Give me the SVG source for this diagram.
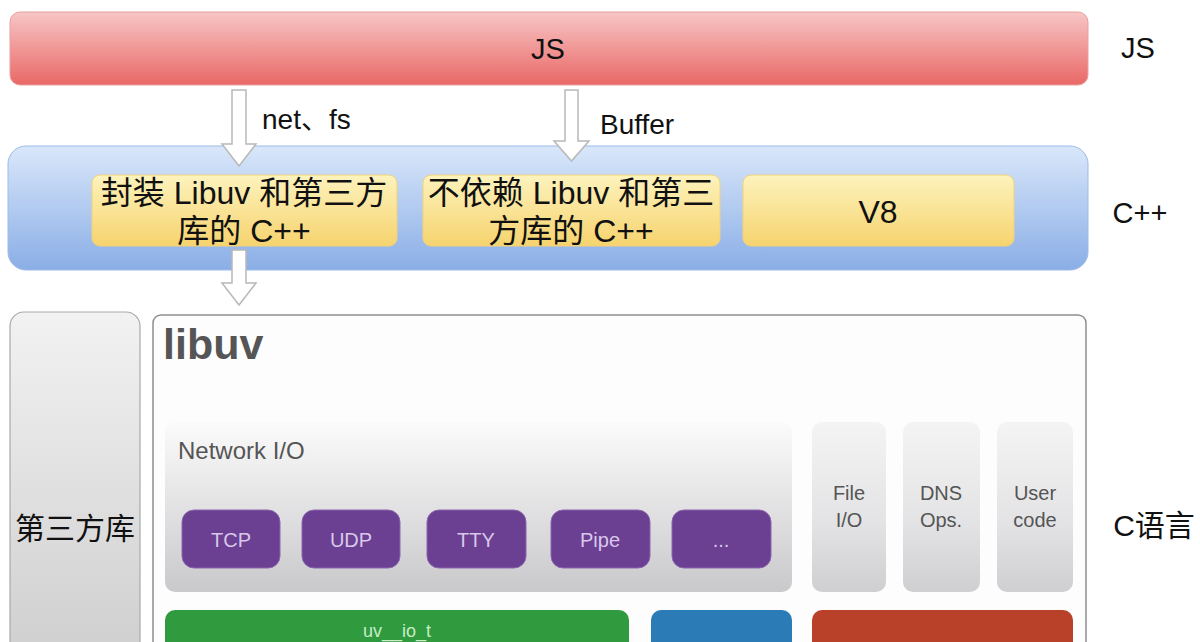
<svg xmlns="http://www.w3.org/2000/svg" width="1200" height="642" viewBox="0 0 1200 642">
<defs>
<linearGradient id="gRed" x1="0" y1="0" x2="0" y2="1"><stop offset="0" stop-color="#f7c6c6"/><stop offset="1" stop-color="#e96866"/></linearGradient>
<linearGradient id="gBlue" x1="0" y1="0" x2="0" y2="1"><stop offset="0" stop-color="#d9e7fa"/><stop offset="1" stop-color="#8aaee6"/></linearGradient>
<linearGradient id="gYel" x1="0" y1="0" x2="0" y2="1"><stop offset="0" stop-color="#fdf3bd"/><stop offset="1" stop-color="#f6d36e"/></linearGradient>
<linearGradient id="gGrey" x1="0" y1="0" x2="0" y2="1"><stop offset="0" stop-color="#fbfbfb"/><stop offset="1" stop-color="#c9c9cc"/></linearGradient>
<linearGradient id="gGreyV" x1="0" y1="0" x2="0" y2="1"><stop offset="0" stop-color="#f4f4f4"/><stop offset="0.6" stop-color="#e3e3e5"/><stop offset="1" stop-color="#cfcfd2"/></linearGradient>
<linearGradient id="gSide" x1="0" y1="0" x2="0" y2="1"><stop offset="0" stop-color="#f2f2f2"/><stop offset="1" stop-color="#cfcfcf"/></linearGradient>
</defs>
<style>
.t{font-family:"Liberation Sans","Noto Sans CJK SC",sans-serif;fill:#111}
.lbl{font-size:28px}
.yt{font-size:32px;text-anchor:middle}
.g{fill:#555;font-family:"Liberation Sans",sans-serif}
.pb{fill:#6b3f91;stroke:#8a66ad;stroke-width:1}
.pt{font-family:"Liberation Sans",sans-serif;font-size:20px;fill:#d9c8ea;text-anchor:middle}
.arrow{fill:#ffffff;stroke:#b8b8b8;stroke-width:1.5}
.col{fill:url(#gGreyV)}
.ct{font-family:"Liberation Sans",sans-serif;font-size:20px;fill:#555;text-anchor:middle}
</style>
<rect width="1200" height="642" fill="#ffffff"/>

<g id="js-layer">
<rect x="10" y="12" width="1078" height="73" rx="10" fill="url(#gRed)" stroke="#e7a0a0" stroke-width="1"/>
<text class="t" x="548" y="59" font-size="29" text-anchor="middle">JS</text>
</g>
<text id="label-js" class="t" x="1138" y="58" font-size="29" text-anchor="middle">JS</text>

<g id="cpp-layer">
<rect x="8" y="146" width="1080" height="124" rx="18" fill="url(#gBlue)" stroke="#9dbbe8" stroke-width="1"/>
</g>
<text id="label-cpp" class="t" x="1140" y="223" font-size="29" text-anchor="middle">C++</text>

<g id="node-wrap">
<rect x="92" y="175" width="305" height="71" rx="8" fill="url(#gYel)" stroke="#f0d27a" stroke-width="1"/>
<text class="t yt" x="244" y="204">封装 Libuv 和第三方</text>
<text class="t yt" x="244" y="242">库的 C++</text>
</g>
<g id="node-nowrap">
<rect x="423" y="175" width="297" height="71" rx="8" fill="url(#gYel)" stroke="#f0d27a" stroke-width="1"/>
<text class="t yt" x="571" y="204">不依赖 Libuv 和第三</text>
<text class="t yt" x="571" y="242">方库的 C++</text>
</g>
<g id="node-v8">
<rect x="743" y="175" width="271" height="71" rx="8" fill="url(#gYel)" stroke="#f0d27a" stroke-width="1"/>
<text class="t yt" x="878" y="223">V8</text>
</g>

<g id="connectors">
<path class="arrow" d="M232,90 L246,90 L246,144 L256,144 L239,166 L222,144 L232,144 Z"/>
<path class="arrow" d="M565,90 L578,90 L578,141 L589,141 L571.5,161 L554,141 L565,141 Z"/>
<path class="arrow" d="M232,250 L246,250 L246,283 L256,283 L239,305 L222,283 L232,283 Z"/>
<text class="t lbl" x="262" y="129">net、fs</text>
<text class="t lbl" x="600" y="134">Buffer</text>
</g>

<g id="node-thirdparty">
<rect x="10" y="312" width="130" height="345" rx="14" fill="url(#gSide)" stroke="#a9a9a9" stroke-width="1.2"/>
<text class="t" x="75" y="539" font-size="30" text-anchor="middle">第三方库</text>
</g>

<g id="node-libuv">
<rect x="153" y="315" width="933" height="345" rx="8" fill="#fdfdfd" stroke="#8e8e8e" stroke-width="1.5"/>
<text class="g" x="163" y="359" font-size="43" font-weight="bold">libuv</text>
</g>

<g id="node-network">
<rect x="165" y="422" width="627" height="170" rx="10" fill="url(#gGrey)"/>
<text class="g" x="178" y="459" font-size="24">Network I/O</text>
</g>
<g id="node-tcp"><rect class="pb" x="182" y="510" width="98" height="58" rx="12"/><text class="pt" x="231" y="547">TCP</text></g>
<g id="node-udp"><rect class="pb" x="302" y="510" width="98" height="58" rx="12"/><text class="pt" x="351" y="547">UDP</text></g>
<g id="node-tty"><rect class="pb" x="427" y="510" width="99" height="58" rx="12"/><text class="pt" x="476" y="547">TTY</text></g>
<g id="node-pipe"><rect class="pb" x="551" y="510" width="99" height="58" rx="12"/><text class="pt" x="600" y="547">Pipe</text></g>
<g id="node-more"><rect class="pb" x="672" y="510" width="99" height="58" rx="12"/><text class="pt" x="721" y="547">...</text></g>

<g id="node-file">
<rect class="col" x="812" y="422" width="74" height="170" rx="10"/>
<text class="ct" x="849" y="500">File</text>
<text class="ct" x="849" y="527">I/O</text>
</g>
<g id="node-dns">
<rect class="col" x="903" y="422" width="77" height="170" rx="10"/>
<text class="ct" x="941" y="500">DNS</text>
<text class="ct" x="941" y="527">Ops.</text>
</g>
<g id="node-user">
<rect class="col" x="997" y="422" width="76" height="170" rx="10"/>
<text class="ct" x="1035" y="500">User</text>
<text class="ct" x="1035" y="527">code</text>
</g>

<text id="label-c" class="t" x="1154" y="536" font-size="30" text-anchor="middle">C语言</text>

<g id="node-uvio">
<rect x="165" y="610" width="464" height="50" rx="10" fill="#2f9a3e"/>
<text x="397" y="637" font-family="Liberation Sans,sans-serif" font-size="18" fill="#c8ecc8" text-anchor="middle">uv__io_t</text>
</g>
<g id="node-blue"><rect x="651" y="610" width="141" height="50" rx="10" fill="#2b7bb6"/></g>
<g id="node-red"><rect x="812" y="610" width="261" height="50" rx="10" fill="#b94129"/></g>
</svg>
